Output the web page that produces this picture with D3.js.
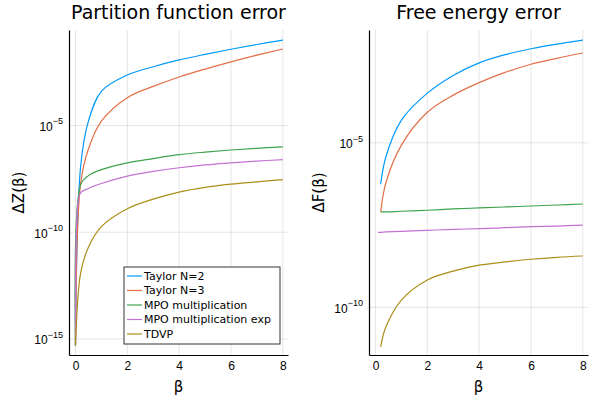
<!DOCTYPE html>
<html><head><meta charset="utf-8">
<script src="https://cdn.jsdelivr.net/npm/d3@7"></script>
<style>body{margin:0;background:#fff}svg{font-family:"DejaVu Sans",sans-serif}</style>
</head><body><svg id="c" width="600" height="400"></svg>
<script>
// ── Data (values given as log10 of the error) ─────────────────────────────────
const NAMES  = ['Taylor N=2', 'Taylor N=3', 'MPO multiplication', 'MPO multiplication exp', 'TDVP'];
const COLORS = ['#009afa', '#e36f47', '#3ea44e', '#c371d2', '#ac8e18'];

const zBeta   = [0, 0.1, 0.2, 0.5, 1, 2, 3, 4, 5, 6, 7, 8];
const zTaylor2 = [-15.3, null, -6.9, -4.8, -3.4, -2.64, -2.25, -1.93, -1.67, -1.43, -1.21, -1.0];
const zTaylor3 = [-15.3, null, -7.7, -6.1, -4.8, -3.7, -3.17, -2.73, -2.36, -2.02, -1.71, -1.42];
const zMpo     = [-15.3, null, -7.77, -7.35, -7.07, -6.75, -6.55, -6.37, -6.25, -6.15, -6.07, -6.0];
const zMpoExp  = [-15.3, -8.57, -8.15, -7.95, -7.72, -7.37, -7.15, -6.98, -6.85, -6.75, -6.67, -6.6];
const zTdvp    = [-15.3, null, -11.9, -10.7, -9.74, -8.9, -8.45, -8.12, -7.9, -7.75, -7.64, -7.54];

const fBeta    = [0.1, 0.2, 0.4, 1, 2, 3, 4, 5, 6, 7, 8];
const fTaylor2 = [null, -6.26, -5.43, -4.31, -3.49, -2.95, -2.57, -2.32, -2.14, -2.0, -1.88];
const fTaylor3 = [null, -7.1, -6.22, -5.07, -4.07, -3.55, -3.17, -2.86, -2.61, -2.43, -2.27];
const fMpo     = [null, -7.1, -7.1, -7.08, -7.05, -7.01, -6.98, -6.95, -6.92, -6.89, -6.86];
const fMpoExp  = [-7.72, -7.72, -7.71, -7.69, -7.66, -7.63, -7.61, -7.58, -7.55, -7.53, -7.5];
const fTdvp    = [null, -11.2, -10.6, -9.78, -9.17, -8.9, -8.72, -8.62, -8.54, -8.48, -8.44];

const xTicks = [0, 2, 4, 6, 8];
const yTickExp = [-5, -10, -15];

const svg = d3.select('#c');

function panel(opts) {
    const { left, right, top, bottom, beta, series, yDom, title, ylabel, legend } = opts;
    const x = d3.scaleLinear().domain([-0.25, 8.2]).range([left, right]);
    const y = d3.scaleLog().domain(yDom).range([bottom, top]);
    const g = svg.append('g');
    const yTicks = yTickExp.map(e => Math.pow(10, e)).filter(v => v >= yDom[0]);

    // grid
    xTicks.forEach(t => g.append('line').attr('x1', x(t)).attr('x2', x(t))
        .attr('y1', top).attr('y2', bottom).attr('stroke', '#000').attr('stroke-opacity', 0.1));
    yTicks.forEach(v => g.append('line')
        .attr('x1', left).attr('x2', right).attr('y1', y(v)).attr('y2', y(v))
        .attr('stroke', '#000').attr('stroke-opacity', 0.1));

    // axes
    const ax = g.append('g').attr('transform', `translate(0,${bottom})`)
        .call(d3.axisBottom(x).tickValues(xTicks).tickSize(0).tickPadding(6));
    ax.select('.domain').attr('stroke', '#000').attr('stroke-width', 1.2);
    ax.selectAll('text').attr('font-size', 12).attr('fill', '#000');
    const ay = g.append('g').attr('transform', `translate(${left},0)`)
        .call(d3.axisLeft(y).tickValues(yTicks).tickSize(0).tickPadding(6).tickFormat(() => ''));
    ay.select('.domain').attr('stroke', '#000').attr('stroke-width', 1.2);
    ay.selectAll('.tick').each(function (v) {
        const e = Math.round(Math.log10(v));
        const t = d3.select(this).append('text').attr('x', -6).attr('dy', '0.4em')
            .attr('text-anchor', 'end').attr('fill', '#000').attr('font-size', 12);
        t.append('tspan').text('10');
        t.append('tspan').attr('font-size', 9).attr('dy', '-0.7em').text('−' + Math.abs(e));
    });

    // lines
    const line = d3.line().x(d => x(d[0])).y(d => y(Math.pow(10, d[1]))).curve(d3.curveCatmullRom.alpha(0.5));
    series.forEach((s, i) => {
        const pts = beta.map((b, j) => [b, s[j]]).filter(d => d[1] !== null);
        g.append('path').attr('d', line(pts)).attr('fill', 'none')
            .attr('stroke', COLORS[i]).attr('stroke-width', 1.2);
    });

    g.append('text').attr('x', (left + right) / 2).attr('y', 19).attr('text-anchor', 'middle')
        .attr('font-size', 19).text(title);
    g.append('text').attr('x', (left + right) / 2).attr('y', 392).attr('text-anchor', 'middle')
        .attr('font-size', 15).text('β');
    g.append('text').attr('transform', `translate(${left - 45},${(top + bottom) / 2}) rotate(-90)`)
        .attr('text-anchor', 'middle').attr('font-size', 15).text(ylabel);

    if (legend) {
        const lg = g.append('g').attr('transform', 'translate(124,267)');
        lg.append('rect').attr('width', 156).attr('height', 77).attr('fill', '#fff')
            .attr('stroke', '#000').attr('stroke-opacity', 0.8);
        NAMES.forEach((n, i) => {
            const yy = 9 + i * 14.5;
            lg.append('line').attr('x1', 3).attr('x2', 18).attr('y1', yy).attr('y2', yy)
                .attr('stroke', COLORS[i]).attr('stroke-width', 1.2);
            lg.append('text').attr('x', 20).attr('y', yy).attr('dy', '0.35em')
                .attr('font-size', 11).text(n);
        });
    }
}

panel({ left: 69, right: 288, top: 30, bottom: 355, beta: zBeta,
    series: [zTaylor2, zTaylor3, zMpo, zMpoExp, zTdvp],
    yDom: [Math.pow(10, -15.75), Math.pow(10, -0.53)],
    title: 'Partition function error', ylabel: 'ΔZ(β)', legend: true });

panel({ left: 369, right: 588, top: 30, bottom: 355, beta: fBeta,
    series: [fTaylor2, fTaylor3, fMpo, fMpoExp, fTdvp],
    yDom: [Math.pow(10, -11.45), Math.pow(10, -1.57)],
    title: 'Free energy error', ylabel: 'ΔF(β)', legend: false });
</script></body></html>
